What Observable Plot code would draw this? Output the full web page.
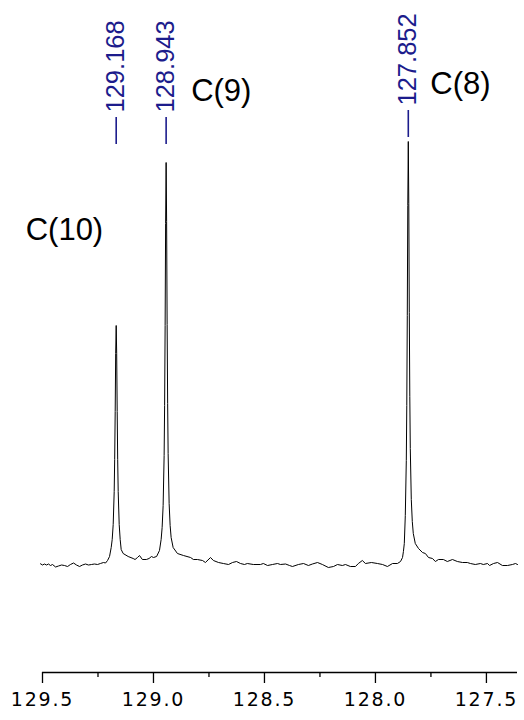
<!DOCTYPE html>
<html><head><meta charset="utf-8">
<script src="https://cdn.jsdelivr.net/npm/d3@7"></script>
<script src="https://cdn.jsdelivr.net/npm/@observablehq/plot@0.6"></script>
<style>
body{margin:0;background:#fff;}
g[aria-label="x-axis tick label"]{letter-spacing:1.8px}
</style></head><body><div id="chart"></div>
<script>
// 13C NMR spectrum, chemical shift (ppm) vs intensity (arbitrary units)
const shifts = [
129.509,129.500,129.491,129.482,129.473,129.464,129.455,129.441,129.428,129.414,
129.401,129.387,129.374,129.360,129.347,129.333,129.320,129.306,129.293,129.279,
129.266,129.252,129.239,129.225,129.216,129.207,129.198,129.1905,129.186,129.1815,
129.177,129.1748,129.1725,129.1703,129.168,129.1658,129.1635,129.1613,129.159,129.1545,
129.150,129.1455,129.1365,129.114,129.0915,129.083,129.072,129.063,129.050,129.032,
129.020,129.009,129.000,128.986,128.973,128.9655,128.961,128.9565,128.952,128.9498,
128.9475,128.9453,128.943,128.9408,128.9385,128.9362,128.934,128.9295,128.925,128.9205,
128.9115,128.892,128.865,128.833,128.820,128.802,128.779,128.766,128.743,128.730,
128.707,128.685,128.662,128.644,128.626,128.608,128.590,128.577,128.550,128.518,
128.505,128.486,128.464,128.441,128.428,128.405,128.387,128.374,128.347,128.324,
128.302,128.284,128.261,128.239,128.212,128.189,128.171,128.149,128.135,128.113,
128.090,128.077,128.059,128.045,128.018,127.991,127.968,127.946,127.923,127.901,
127.887,127.878,127.874,127.870,127.8655,127.861,127.8588,127.8565,127.8543,127.852,
127.8498,127.8475,127.8452,127.843,127.8385,127.834,127.8295,127.8205,127.806,127.788,
127.775,127.761,127.743,127.730,127.716,127.694,127.676,127.653,127.631,127.608,
127.586,127.572,127.550,127.527,127.514,127.495,127.486,127.468,127.450,127.428,
127.405,127.383,127.369,127.360
];
const intensities = [
1.7,0.5,1.5,0.5,1.5,0,1,-1.5,-0.5,0.5,
0,-1,1,2.5,0.5,-1,0.5,1.5,0.5,1,
1.5,1,2,3,2.5,5,9,18,26,41,
74,106,154,212,240,212,154,106,74,41,
26,16,12,9,7,6,8,10,6,6,
7,9,8,9,15,26,38,60,110,160,
240,342,403,344,241,162,112,62,40,28,
18,12,10,8,6,6,5,3,8,5,
3,2,1,3,4,2,1,2,1,1,
2,0,1,2,1,1.5,0,-1,1,2,
0,1.5,3,1,-2,-1,1,0,1,-1,
-1,2,5,2,3,2,1,-1,2,2,
4,8,14,22,50,105,160,250,360,424,
362,253,169,117,66,44,32,22,17,13,
12,8,7,4,6,6,4,6,4,3,
3,2,1,2,1,2,0,2,3,0,
0,1,2,1
];
const peakShifts = [129.168, 128.943, 127.852];
const peakLabels = ["129.168", "128.943", "127.852"];
const carbonLabels = ["C(10)", "C(9)", "C(8)"];
const majorTicks = [129.5, 129.0, 128.5, 128.0, 127.5];
const tickLabels = ["129.5", "129.0", "128.5", "128.0", "127.5"];
const minorTicks = [129.25, 128.75, 128.25, 127.75];

const spectrum = shifts.map((s, i) => ({shift: s, intensity: intensities[i]}));
const peaks = peakShifts.map((s, i) => ({shift: s, label: peakLabels[i], carbon: carbonLabels[i]}));
const navy = "#1c1c8c";
const yMin = -107;

const chart = Plot.plot({
  width: 524, height: 720,
  marginLeft: 42, marginRight: 7, marginTop: 0, marginBottom: 48,
  x: {domain: [129.5, 127.36]},
  y: {domain: [yMin, 565], axis: null},
  style: {background: "white", overflow: "visible"},
  marks: [
    Plot.ruleY([yMin], {stroke: "black", strokeWidth: 1.3}),
    Plot.axisX(majorTicks, {anchor: "bottom", tickSize: 11, tickPadding: 9, strokeWidth: 1.3,
      tickFormat: d => tickLabels[majorTicks.indexOf(d)], fontSize: 19, fontFamily: "DejaVu Sans",
      fill: "black", stroke: "black", label: null}),
    Plot.axisX(minorTicks, {anchor: "bottom", tickSize: 5, strokeWidth: 1.3, tickFormat: () => "", label: null}),
    Plot.line(spectrum, {x: "shift", y: "intensity", stroke: "black", strokeWidth: 1}),
    Plot.ruleX(peaks.slice(0, 2), {x: "shift", y1: 421, y2: 448, stroke: navy, strokeWidth: 1.6}),
    Plot.ruleX(peaks.slice(2), {x: "shift", y1: 428, y2: 455, stroke: navy, strokeWidth: 1.6}),
    Plot.text(peaks.slice(0, 2), {x: "shift", y: 448, dy: -5, text: "label", rotate: -90,
      textAnchor: "start", lineAnchor: "middle", fill: navy, fontSize: 25.5, fontFamily: "Liberation Sans"}),
    Plot.text(peaks.slice(2), {x: "shift", y: 455, dy: -5, text: "label", rotate: -90,
      textAnchor: "start", lineAnchor: "middle", fill: navy, fontSize: 25.5, fontFamily: "Liberation Sans"}),
    Plot.text(peaks.slice(0, 1), {x: "shift", y: 335, dx: -13, text: "carbon", textAnchor: "end",
      lineAnchor: "middle", fill: "black", fontSize: 31, fontFamily: "Liberation Sans"}),
    Plot.text(peaks.slice(1, 2), {x: "shift", y: 474, dx: 25, text: "carbon", textAnchor: "start",
      lineAnchor: "middle", fill: "black", fontSize: 31, fontFamily: "Liberation Sans"}),
    Plot.text(peaks.slice(2), {x: "shift", y: 481, dx: 22, text: "carbon", textAnchor: "start",
      lineAnchor: "middle", fill: "black", fontSize: 31, fontFamily: "Liberation Sans"})
  ]
});
document.getElementById("chart").appendChild(chart);
</script></body></html>
